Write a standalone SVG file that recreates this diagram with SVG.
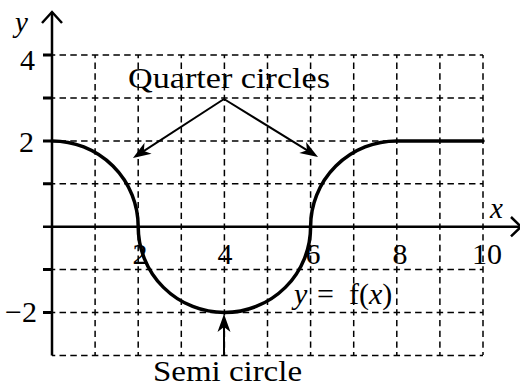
<svg xmlns="http://www.w3.org/2000/svg" width="520" height="388" viewBox="0 0 520 388">
<style>
.bg{fill:#fff}
.gv{fill:none;stroke:#000;stroke-width:1.5;stroke-dasharray:6.4 4.325;stroke-dashoffset:3.2}
.gh{fill:none;stroke:#000;stroke-width:1.5;stroke-dasharray:6.5 4.275;stroke-dashoffset:3.25}
.axis{fill:none;stroke:#000;stroke-width:2.5}
.tick{fill:none;stroke:#000;stroke-width:3}
.curve{fill:none;stroke:#000;stroke-width:3.5;stroke-linecap:round}
.conn{fill:none;stroke:#000;stroke-width:2}
.t{font-family:"Liberation Serif","Times New Roman",serif;fill:#000}
.lbl{font-size:30px}
.num{font-size:30px}
.it{font-style:italic;font-size:29px}
</style>
<defs>
<marker id="ah" markerUnits="userSpaceOnUse" markerWidth="30" markerHeight="20" viewBox="-20 -10 30 20" refX="-4" refY="0" orient="auto" overflow="visible">
<path d="M0,0 L-18,-6.5 L-13,0 L-18,6.5 Z" fill="#000"/>
</marker>
</defs>
<rect class="bg" x="0" y="0" width="520" height="388"/>
<g id="grid">
<path class="gv" d="M95.1,55 V355 M138.2,55 V355 M181.3,55 V355 M224.4,55 V355 M267.5,55 V355 M310.6,55 V355 M353.7,55 V355 M396.8,55 V355 M439.9,55 V355 M483,55 V355"/>
<path class="gh" d="M52,55 H483 M52,98 H483 M52,140.9 H483 M52,183.8 H483 M52,269.6 H483 M52,312.5 H483 M52,355.4 H483"/>
</g>
<g id="axes">
<path class="axis" d="M52,355.4 V12 M43,226.7 H519"/>
<path class="axis" d="M42,23 L52,12 L62,23"/>
<path class="axis" d="M511,217 L521,226.7 L511,236.4"/>
<path class="tick" d="M43,55 H52 M43,98 H52 M43,140.9 H52 M43,183.8 H52 M43,269.6 H52 M43,312.5 H52"/>
</g>
<g id="curve">
<path class="curve" d="M52,140.9 A86.2,85.8 0 0 1 138.2,226.7 A86.2,85.8 0 0 0 310.6,226.7 A86.2,85.8 0 0 1 396.8,140.9 L483,140.9"/>
</g>
<g id="connectors">
<path class="conn" d="M224,99 L136.3,155.8" marker-end="url(#ah)"/>
<path class="conn" d="M224,99 L314.6,154.9" marker-end="url(#ah)"/>
<path class="conn" d="M224,355.4 L224,318" marker-end="url(#ah)"/>
</g>
<g id="labels">
<text class="t lbl" x="128" y="88" textLength="202" lengthAdjust="spacingAndGlyphs">Quarter circles</text>
<text class="t lbl" x="153" y="381" textLength="149" lengthAdjust="spacingAndGlyphs">Semi circle</text>
<text class="t it" x="15" y="32">y</text>
<text class="t it" x="490" y="218">x</text>
<text class="t num" x="35" y="70" text-anchor="end">4</text>
<text class="t num" x="34" y="152" text-anchor="end">2</text>
<text class="t num" x="37" y="322" text-anchor="end">−2</text>
<text class="t num" x="140" y="264" text-anchor="middle">2</text>
<text class="t num" x="225" y="264" text-anchor="middle">4</text>
<text class="t num" x="313" y="264" text-anchor="middle">6</text>
<text class="t num" x="400" y="264" text-anchor="middle">8</text>
<text class="t num" x="487" y="264" text-anchor="middle">10</text>
<text class="t num" x="294" y="304"><tspan font-style="italic">y</tspan><tspan x="317">=</tspan><tspan x="349">f(</tspan><tspan font-style="italic">x</tspan><tspan>)</tspan></text>
</g>
</svg>
